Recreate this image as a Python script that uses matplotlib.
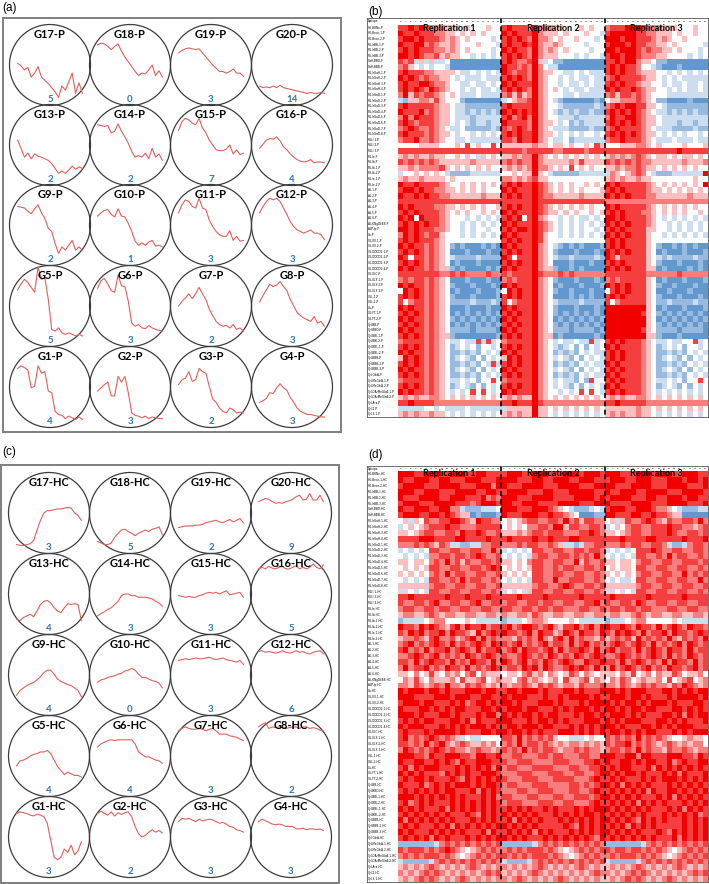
import numpy as np
import matplotlib.pyplot as plt
from matplotlib.patches import Circle
from matplotlib.colors import LinearSegmentedColormap

W, H = 709, 884
fig = plt.figure(figsize=(W / 100, H / 100), dpi=100)

epitopes = list(range(6, 26))

# grid order: top row first (G17..G20), bottom row last (G1..G4)
grid_ids = [17, 18, 19, 20, 13, 14, 15, 16, 9, 10, 11, 12, 5, 6, 7, 8, 1, 2, 3, 4]

p_counts = [5, 0, 3, 14, 2, 2, 7, 4, 2, 1, 3, 3, 5, 3, 2, 3, 4, 3, 2, 3]
hc_counts = [3, 5, 2, 9, 4, 3, 3, 5, 4, 0, 3, 6, 4, 4, 3, 2, 3, 2, 3, 3]

p_profiles = [
    [52, 49, 44, 47, 35, 40, 48, 35, 31, 27, 22, 17, 10, 24, 19, 29, 40, 15, 28, 15],
    [75, 77, 76, 73, 69, 73, 76, 67, 60, 54, 48, 42, 37, 40, 39, 44, 50, 37, 43, 35],
    [65, 68, 70, 71, 70, 69, 70, 65, 60, 55, 50, 46, 42, 42, 40, 42, 45, 40, 40, 36],
    [24, 22, 23, 22, 24, 22, 25, 22, 21, 20, 19, 18, 17, 16, 15, 16, 15, 15, 16, 15],
    [56, 46, 35, 40, 33, 39, 36, 35, 33, 31, 27, 21, 15, 18, 15, 19, 24, 20, 23, 21],
    [75, 74, 73, 74, 65, 67, 76, 67, 60, 52, 42, 35, 37, 35, 40, 33, 46, 35, 39, 31],
    [68, 79, 83, 81, 77, 75, 83, 71, 65, 56, 50, 44, 43, 43, 45, 50, 39, 44, 38, 40],
    [46, 51, 56, 58, 57, 60, 55, 48, 44, 39, 35, 32, 30, 29, 30, 32, 28, 29, 29, 28],
    [73, 72, 71, 67, 64, 70, 75, 65, 58, 46, 42, 27, 15, 23, 19, 25, 31, 19, 23, 19],
    [61, 65, 68, 69, 63, 60, 70, 61, 60, 52, 42, 30, 25, 28, 25, 29, 31, 24, 25, 23],
    [65, 75, 81, 79, 73, 71, 83, 71, 69, 56, 48, 42, 38, 36, 36, 43, 31, 36, 30, 31],
    [65, 73, 79, 83, 81, 83, 79, 71, 63, 54, 48, 44, 42, 40, 42, 44, 40, 40, 38, 32],
    [70, 77, 83, 79, 73, 67, 98, 83, 85, 58, 21, 19, 23, 17, 15, 17, 15, 13, 15, 13],
    [72, 81, 84, 77, 69, 67, 88, 75, 74, 56, 29, 25, 27, 23, 22, 26, 23, 21, 20, 19],
    [50, 56, 60, 65, 59, 65, 73, 65, 58, 46, 38, 31, 27, 25, 26, 23, 27, 21, 23, 19],
    [55, 63, 70, 77, 74, 76, 80, 74, 69, 58, 50, 42, 38, 35, 33, 31, 37, 29, 31, 25],
    [73, 76, 74, 71, 49, 51, 76, 67, 69, 45, 43, 20, 16, 15, 11, 14, 12, 10, 13, 10],
    [45, 49, 53, 56, 39, 39, 63, 56, 63, 43, 18, 15, 14, 12, 14, 11, 13, 12, 11, 11],
    [53, 59, 61, 69, 57, 59, 73, 69, 67, 51, 35, 31, 24, 20, 18, 24, 22, 18, 19, 18],
    [31, 33, 36, 43, 42, 49, 54, 49, 46, 37, 31, 24, 20, 18, 16, 16, 15, 14, 13, 13],
]

hc_profiles = [
    [11, 10, 10, 11, 12, 16, 29, 41, 50, 53, 53, 54, 55, 55, 56, 57, 56, 50, 47, 41],
    [15, 13, 11, 11, 13, 20, 25, 29, 30, 27, 25, 22, 25, 27, 29, 27, 30, 31, 33, 23],
    [32, 33, 34, 34, 34, 35, 35, 36, 38, 39, 40, 41, 39, 38, 40, 42, 39, 41, 43, 38],
    [64, 66, 68, 67, 64, 62, 63, 62, 64, 65, 67, 70, 72, 66, 67, 74, 66, 66, 72, 64],
    [19, 17, 21, 23, 25, 22, 29, 37, 41, 42, 39, 33, 29, 27, 33, 38, 37, 38, 37, 17],
    [23, 26, 28, 31, 33, 37, 41, 48, 50, 50, 48, 48, 46, 46, 46, 45, 44, 41, 39, 35],
    [48, 47, 46, 47, 46, 46, 48, 49, 51, 52, 51, 52, 50, 52, 54, 49, 50, 51, 52, 46],
    [81, 83, 81, 84, 82, 81, 83, 84, 81, 81, 83, 85, 81, 83, 81, 83, 87, 83, 81, 86],
    [25, 31, 34, 37, 39, 41, 44, 48, 53, 56, 56, 51, 45, 42, 40, 38, 37, 34, 31, 23],
    [41, 44, 45, 47, 48, 49, 51, 52, 55, 56, 58, 56, 51, 47, 47, 45, 43, 42, 40, 34],
    [68, 69, 70, 69, 70, 71, 70, 70, 71, 72, 70, 69, 70, 71, 69, 68, 67, 66, 68, 63],
    [79, 80, 78, 79, 78, 77, 78, 80, 78, 77, 78, 80, 78, 79, 77, 76, 78, 79, 80, 76],
    [38, 44, 45, 47, 50, 52, 53, 55, 55, 57, 53, 45, 37, 32, 27, 30, 28, 26, 26, 24],
    [61, 65, 67, 69, 70, 69, 70, 70, 70, 70, 70, 65, 55, 52, 49, 49, 47, 45, 44, 41],
    [81, 84, 86, 84, 83, 83, 84, 83, 81, 83, 84, 81, 77, 77, 77, 75, 74, 73, 71, 69],
    [86, 89, 91, 84, 86, 85, 86, 86, 84, 85, 86, 86, 84, 86, 86, 84, 85, 84, 82, 81],
    [79, 81, 80, 79, 77, 76, 78, 77, 75, 67, 46, 25, 22, 25, 35, 31, 40, 28, 33, 44],
    [79, 82, 79, 77, 81, 76, 80, 78, 80, 81, 75, 63, 54, 50, 52, 56, 59, 56, 58, 55],
    [69, 73, 72, 73, 71, 69, 72, 70, 71, 72, 71, 69, 67, 68, 66, 63, 62, 59, 58, 56],
    [69, 72, 70, 68, 66, 65, 66, 65, 63, 63, 63, 60, 60, 61, 59, 60, 60, 59, 60, 58],
]

epitope_names = [
    "HG-B8Ne", "HG-Bece-1", "HG-Bece-2", "RG-IrBB-1", "RG-IrBB-2", "RG-IrBB-3",
    "GaH-BBD", "GaH-BBB", "RG-IrGaH-1", "RG-IrGaH-2", "RG-IrGaH-3", "RG-IrGaH-4",
    "RG-IrGaD-1", "RG-IrGaD-2", "RG-IrGaD-3", "RG-IrGaD-4", "RG-IrGaD-5",
    "RG-IrGaD-6", "RG-IrGaD-7", "RG-IrGaD-8", "RGLI-1", "RGLI-2", "RGLI-3",
    "RG-Ie", "RG-Ib", "RG-Ib-1", "RG-Ib-2", "RG-Ie-1", "RG-Ie-2", "AG-1", "AG-2",
    "AG-3", "AG-4", "AG-5", "AG-6", "AG-KNgDkBB", "AGP-Ip", "Ca", "XG-XX-1",
    "XG-XX-2", "XG-DDDD2-1", "XG-DDDD2-2", "XG-DDDD2-3", "XG-DDDD2-4", "XG-XLC",
    "XG-XLX-1", "XG-XLX-2", "XG-XLX-3", "XGL-1", "XGL-2", "Xu", "XG-FT-1",
    "XG-FT-2", "Xyl-BB", "Xyl-BBD", "Xyl-BBI-1", "Xyl-BBI-2", "Xyl-BBL-1",
    "Xyl-BBL-2", "Xyl-BBB", "Xyl-BBB-2", "Xyl-BBB-3", "Xyl-GlcA", "Xyl-MeGlcA-1",
    "Xyl-MeGlcA-2", "Xyl-DArMeGlcA-1", "Xyl-DArMeGlcA-2", "Xyl-Ara", "Xyl-2", "Xyl-3-1",
]

rep_names = ["Replication 1", "Replication 2", "Replication 3"]

# binding levels 0 (blue) .. 4 (white) .. 8 (red), one row per epitope,
# 20 columns (epitope position 6..25) per replication
hm_p = [
    "77878766655545444544 78777686665544454544 67778887666555444544",
    "87787776655454545444 87877786555454445443 78888877665554544544",
    "78878777656545444434 78787686654544544434 88878877765654454444",
    "87788676556544454443 78778786556544443444 78887877665545444443",
    "78787776656545444434 87877686565454444344 88788876766554544434",
    "88787667565544343434 78787686555444343443 78878876665544443434",
    "76735353341111111111 78766785342211111111 77878865542211111111",
    "67543434431111111111 87767686433111111111 78787764432111211111",
    "78777665555433434343 87677686554433434333 78787765554434343434",
    "87876766554343334333 78787686544343433433 67877776554343433333",
    "78778876654433433434 87877786544343343433 78787765544343343343",
    "78787687654434343343 78787686545434334333 87877876554434343343",
    "68576776545433343333 67575686544433433333 67577676544433333333",
    "32556657544421111111 34566786543211111121 45566676542211112111",
    "78777776554332222222 78777786544322222232 67878877554322222222",
    "87778676554332323232 87878786543232322322 78787876543323232322",
    "68687776554333233333 78678686544333233333 68778876554333333333",
    "78767776554343233233 87777686554342323333 78787876554333233233",
    "67876676543342222232 76787686543332222322 67877776543332222322",
    "78777676554344343434 78787786554343434434 78787876554343434434",
    "67786676544334333333 77687786543342333333 67787776543334333433",
    "44445555444547454474 55555565545545445475 44455566545444454445",
    "77777777777777777777 77776777776677776777 77777777777777877777",
    "56565565544545435454 55656686545454545454 56565676545545455454",
    "76767676555555655555 67676686555556575555 76767676655555565556",
    "55656666754545454544 56565686654547454544 55656676554545454544",
    "34454545432222333333 44545585432222233333 36545676432223333338",
    "56556555545444444444 66565675544444444444 56565565544444444544",
    "87787777654454545454 78787787654545445454 87877777654545454548",
    "78878776655454545444 87877787654545454445 78787777655454545454",
    "87787877665555556555 78787787665555565555 87878777665555556555",
    "77777777777777777777 77777787777777777777 66666666666666666666",
    "87877776655454545445 78787787654545454544 87877777654545454544",
    "78787777654545445454 87877787655454544545 78787776654545454454",
    "87848777654443434343 78784786544343433434 88787777654343434343",
    "78787877654434343434 87877787654343434343 87878777654434343434",
    "88787776654434344344 78788787654343434434 78787777554434343434",
    "68787677544434343434 87877787544343434343 87878777544343434343",
    "78787776544444444444 78787787544444444444 78787777544444444444",
    "87877676542121112121 87877786543212121112 78787777542112121211",
    "78787676541112111211 78787786542111211121 87878777541211121112",
    "87477676543222232222 87477786543223222232 87577777543232222322",
    "78787676541211121111 78787786541112111211 78787777542111211121",
    "87877676552121111212 87877786552112121111 87878777551211112121",
    "77777777667676666766 76777787666767666666 77777777666666766666",
    "67677676541112111211 67677786542111211121 67677777541211121112",
    "87877676542111211121 87877786541211121112 87878777542112111211",
    "48787676541211121112 48787786542112111211 47878777541121112111",
    "78787676542111211112 78787786541112121211 78787777542111211121",
    "74677676542222322232 74677786543222232222 74677777542232222322",
    "87877676541112111211 87877786542111211121 88888888541211121112",
    "78787676541212121212 78787786542121212121 88888887542121212121",
    "87877676542121212121 87877786541212121212 88888888541212121212",
    "78787676541212121212 78787786542121212121 88888888542121212121",
    "87877676542222122221 87877786542221222212 88888887542222122221",
    "78787676552111111112 78787786551211111121 88888888552111211111",
    "67777676543343373734 67777786543433433734 78787776543343344734",
    "78787676542343424434 78787786543234242434 87877776542343424434",
    "87877676542232324343 87877786542323243433 78787776542232324343",
    "58787676542343242434 58787786543432424343 78787776542343242434",
    "78787676542232324373 78787786542323243433 87877776542232324343",
    "87877676542343242434 87877786543432424343 78787776542343242434",
    "78787676542232324343 78787786542323243433 87877776542232324343",
    "67777676543343424474 67777786543433242744 78787776543343424474",
    "78787676542343242434 78787786543432424343 87877776542343242434",
    "87877676543434747434 87877786544343474743 78787776543434343434",
    "56565566545454545454 56565586545454545454 56565566545454545454",
    "77877776666666666666 77877787666666666666 77877777666666666666",
    "33333443433334333333 35555585545454545454 55555565545454545454",
    "56565565543434343434 56565585543434343434 56565565543434343434",
]

hm_hc = [
    "88877888778887788777 78887788877788878887 88877788878887788877",
    "87788877887778887778 88877788778887788877 78887788877788878878",
    "78888777888877788868 87778888777888877788 88777888877788887778",
    "88877888777888877887 78888777887778888877 87788877888877788887",
    "87778888778887778676 88877788887777888878 78888777887788878877",
    "78887778888777678887 88778887777888877788 87777888877788887778",
    "87788877886632223334 88877788876543222343 78887788876654322233",
    "78887788787655121112 87778887787765411122 88777887787765511111",
    "45354766778876587766 45456776677686757766 45357667876576677686",
    "34545677787766677777 45454667768857766776 34546776677787766567",
    "55456776677687787667 55565677677766677876 55456776677787667767",
    "77778887777887777877 78777787787778877777 77787777887777787778",
    "66676765763322336677 66676776676533236677 66676776677632236776",
    "34343477667766776686 34343477667766776776 34343477787667766776",
    "43434366776776787667 43434367766776767686 43434377667686776676",
    "55455467686757667767 55454677667766857667 55455467766776677767",
    "45454577667766776787 45454577667677667767 45455477667766776676",
    "54545467686776677667 54545477667766776676 54545467766776686767",
    "43434377667686776676 43434377668667776676 43433477667766776686",
    "55555567766776677667 55555567766787667767 55555567766776677667",
    "33434377667766776676 34343577667766776676 33434377667766776676",
    "77877777787778777877 77787777877777787777 78777777877777787777",
    "76677678667766786677 67766776776677667786 76677687667766776677",
    "67766776776677667766 77667767767766677667 67767767766677667766",
    "56655676566556655665 65566576556655665566 56655676566556655665",
    "23333456644445433333 23334566544445433333 23334566444445433333",
    "87768787657868778677 78678876786577867868 87787687768678768776",
    "76878677868776586787 87767868775687687768 76878768677868776787",
    "56676578667567868676 66576768657868676657 56767586767686576768",
    "67867678768676787687 76786767867768678676 67876787686767868767",
    "78676867786787686778 67868776786867787686 78677686787687768677",
    "66787678676768767876 76678767687676876787 66787676787686768767",
    "77686787768676877686 87678676876787668778 77686787676868776867",
    "68677867687768676787 67768786876678787686 68678767867687767867",
    "55464575465646746555 45546756465457646545 55465745646557645564",
    "46575465556475567456 55467565456475567465 46576456556474567456",
    "66576567686657676565 65667657676566576667 66576567676657687656",
    "87888788787778887887 78878887877788787778 88787888777887878788",
    "88877778887888778877 87888777877878888787 78887887877787888878",
    "78887887778786788787 88787778887877787888 87878878788878777887",
    "87778878787887778878 78887887778787888787 88787887887778878787",
    "88878777887877787886 87878878788777878878 78887878777887868788",
    "78787887778878687778 88777878878787778887 87878887778878787778",
    "87888777878787888787 78878887887778787878 88787778878787888777",
    "78777878888787778878 87887878777888787878 78878787887778787888",
    "78676787676534334444 77686767675443334544 76767686767654456554",
    "77676867865676556564 67686776765656656565 76778676765676565664",
    "68767678767665676656 76768676776566767665 67767686766576676566",
    "88877687788877688778 66776667767766677668 88778868877788877687",
    "87788778787687788877 76677766667776667787 87788787887786787788",
    "78687888777878787868 67766677776667766778 78788777868787878787",
    "87878777687878778887 66677766677766776678 87878878777878687778",
    "78788787778768787878 76667776667777666787 78787778787888787878",
    "87778678787888787887 67766677766667767678 87868787877787878787",
    "78787878788777868787 66677667776667766787 78787878687788787878",
    "88878787878787778786 77666776667766777678 87878787778786878787",
    "78678787778787878787 67776667776677666787 78787868787877787878",
    "87878777868787878787 78787877878777878788 87878787877787868787",
    "78787878787778768787 87878787778787878878 78787878777878787867",
    "86878787878777878787 78687878777878787878 87878768787877787878",
    "78787778786878787878 87878787777787687878 78786878787777787878",
    "87877787878787778687 78787868787778787878 87878787778768787878",
    "78787868787778787878 87878777878787878768 78787878787778687878",
    "22222223676767676767 22222236767676767676 22222223676767676767",
    "76777676787654567676 67676777676545676767 76776776767654567676",
    "67676777676545676767 76767677767654567676 67677767676545676767",
    "32222236767676767676 32222367676767676767 32222236767676767676",
    "56565676565656765656 65656567656565676565 56565676565656765656",
    "65656767656565656767 56565676565656565676 65656767656565656767",
    "56567676565676565656 65676565656765656565 56567676565676565656",
]


def px_axes(x0, y0, w, h):
    return fig.add_axes([x0 / W, 1 - (y0 + h) / H, w / W, h / H])


def circle_panel(box, col_x, row_y, counts, profiles, suffix):
    frame = px_axes(*box)
    frame.set_xticks([])
    frame.set_yticks([])
    for s in frame.spines.values():
        s.set_color("#7f7f7f")
        s.set_linewidth(1.4)
    R = 40.5
    for i, (gid, n, prof) in enumerate(zip(grid_ids, counts, profiles)):
        r, c = divmod(i, 4)
        ax = px_axes(col_x[c] - R, row_y[r] - R, 2 * R, 2 * R)
        ax.set_axis_off()
        ax.set_xlim(epitopes[0] - 2.375, epitopes[-1] + 2.375)
        ax.set_ylim(0, 100)
        ax.add_patch(Circle((0.5, 0.5), 0.5, transform=ax.transAxes, fill=False,
                            ec="#3c3c3c", lw=0.9, clip_on=False))
        ax.plot(epitopes, prof, color="#e0605c", lw=0.8, clip_on=False)
        ax.text(0.5, 1 - 10 / 81, f"G{gid}-{suffix}", transform=ax.transAxes,
                ha="center", va="center", fontsize=8, fontweight="bold",
                family=["Lato", "DejaVu Sans"])
        ax.text(0.5, 6 / 81, str(n), transform=ax.transAxes, ha="center",
                va="center", fontsize=7, fontweight="bold", color="#2e75b6",
                family=["Lato", "DejaVu Sans"])


cmap = LinearSegmentedColormap.from_list("bwr_", ["#2f75bd", "#ffffff", "#f20000"])


def heatmap(box, rows, suffix, hdr, text_y):
    M = []
    for row in rows:
        vals = ""
        for g in row.split():
            vals += (g + g[-1] * 20)[:20]
        M.append([int(ch) for ch in vals])
    M = np.array(M)
    nr, nc = M.shape
    ax = px_axes(*box)
    ax.pcolormesh(np.arange(nc + 1), np.arange(nr + 1), M, cmap=cmap, vmin=0, vmax=8)
    ax.set_xlim(-6, nc)
    ax.set_ylim(nr, -hdr)
    ax.set_xticks([])
    ax.set_yticks([])
    for s in ax.spines.values():
        s.set_color("#555555")
        s.set_linewidth(0.6)
    ax.text(-5.8, -hdr / 2, "Epitope", fontsize=2.0, va="center", ha="left")
    for i, name in enumerate(epitope_names):
        ax.text(-5.8, i + 0.5, f"{name}-{suffix}", fontsize=2.1, va="center", ha="left")
    for j in range(nc):
        ax.text(j + 0.5, -hdr / 2, str(epitopes[j % 20]), fontsize=1.7,
                va="center", ha="center")
    for k in (20, 40):
        ax.plot([k, k], [-hdr, nr], color="black", lw=1.2, ls=(0, (3, 2)))
    for k, name in enumerate(rep_names):
        ax.text(10 + 20 * k, text_y, name, fontsize=6.5, fontweight="bold",
                ha="center", va="center", family=["Lato", "DejaVu Sans"])


circle_panel((3, 18, 338, 414), [50, 130, 211, 292], [65, 145, 225, 306, 387],
             p_counts, p_profiles, "P")
circle_panel((1, 465, 338, 418), [49, 130, 211, 291], [513, 594, 675, 756, 837],
             hc_counts, hc_profiles, "HC")

heatmap((367, 18, 341, 399), hm_p, "P", 1.25, 0.7)
heatmap((367, 466, 341, 416), hm_hc, "HC", 0.9, 0.35)

for lab, x, y in [("(a)", 2, 8), ("(b)", 368, 12), ("(c)", 2, 452), ("(d)", 368, 455)]:
    fig.text(x / W, 1 - y / H, lab, fontsize=8.5, ha="left", va="center",
             family="Liberation Sans")

fig.savefig("out.png", dpi=100)
